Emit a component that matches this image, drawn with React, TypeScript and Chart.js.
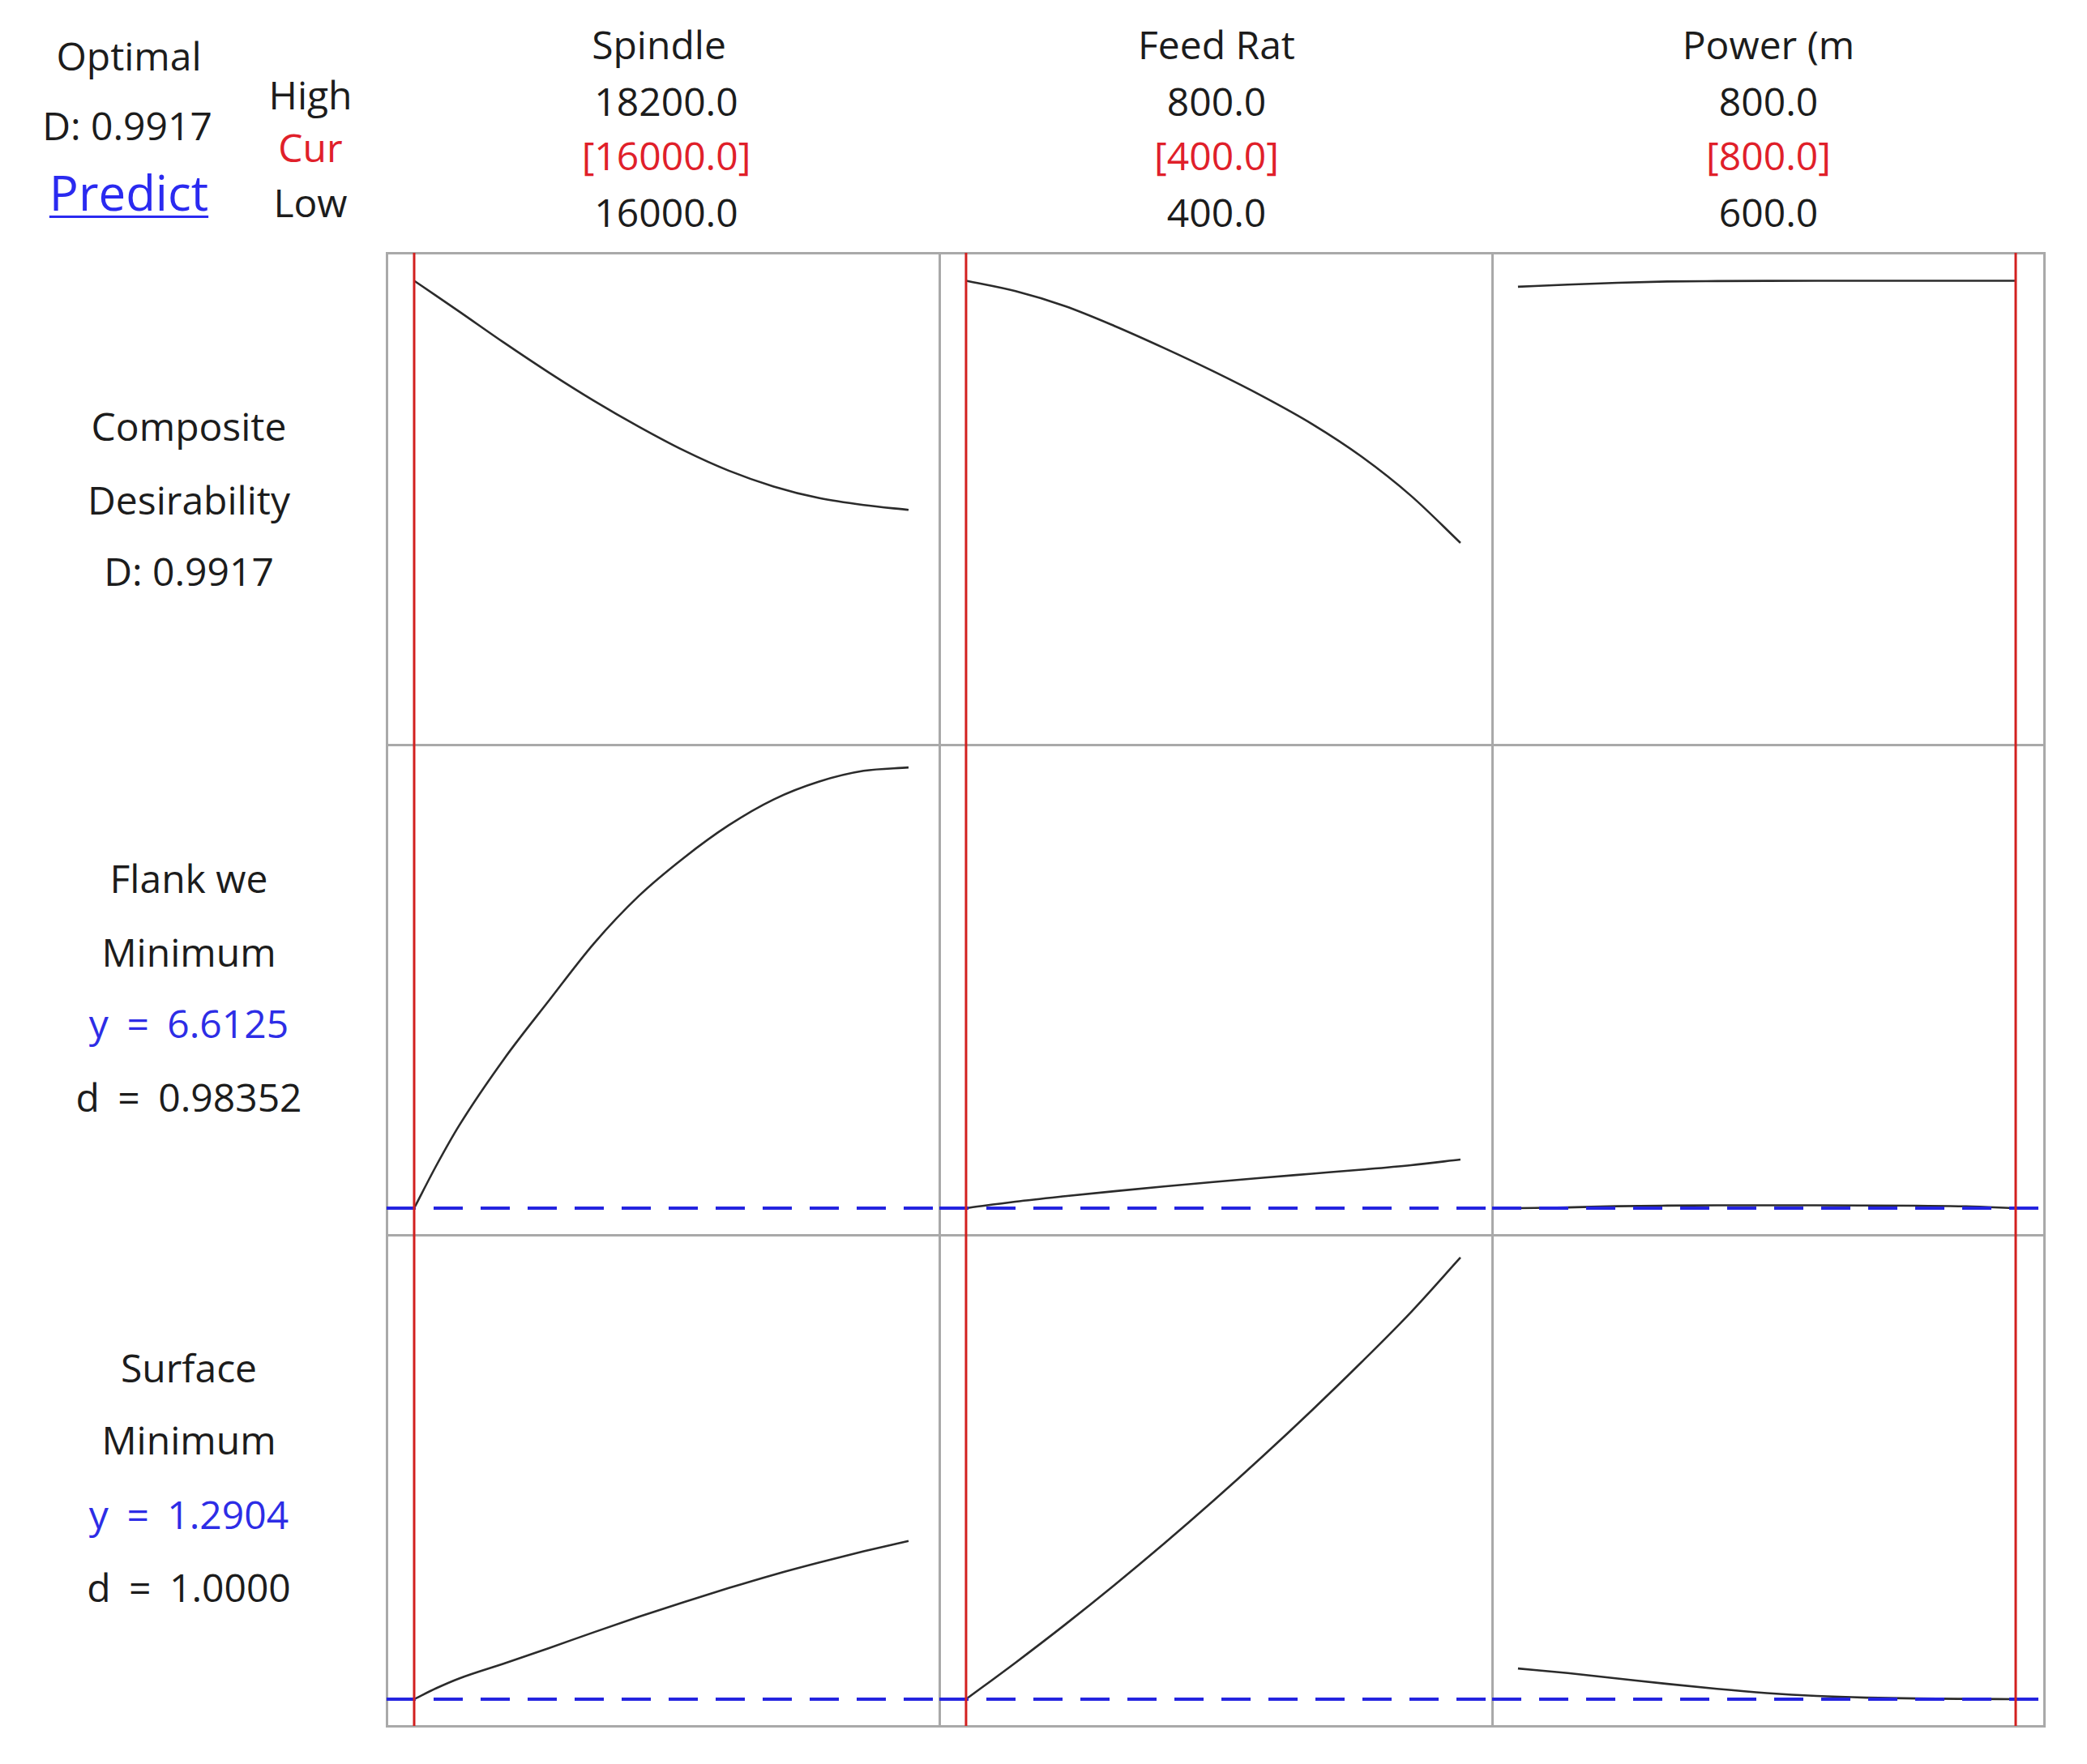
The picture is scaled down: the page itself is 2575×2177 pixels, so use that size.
import React, { useEffect, useRef } from "react";
import { Chart, registerables } from "chart.js";

Chart.register(...registerables);

// ---------------- data ----------------
const factorNames = ["Spindle", "Feed Rat", "Power (m"];
const factorHigh = ["18200.0", "800.0", "800.0"];
const factorCur = ["[16000.0]", "[400.0]", "[800.0]"];
const factorLow = ["16000.0", "400.0", "600.0"];
const currentSettings = [16000, 400, 800];

const spindleX = [16000, 16100, 16200, 16400, 16600, 16800, 17000, 17200, 17400, 17600, 17800, 18000, 18200];
const feedX = [400, 440, 480, 520, 560, 600, 640, 680, 720, 760, 800];
const powerX = [600, 620, 640, 660, 680, 700, 720, 740, 760, 780, 800];

// Composite desirability
const compositeVsSpindle = [0.9917, 0.957, 0.922, 0.851, 0.783, 0.719, 0.66, 0.606, 0.56, 0.524, 0.498, 0.482, 0.471];
const compositeVsFeed = [0.9917, 0.968, 0.934, 0.889, 0.839, 0.786, 0.729, 0.666, 0.592, 0.503, 0.396];
const compositeVsPower = [0.978, 0.983, 0.987, 0.99, 0.991, 0.9915, 0.9917, 0.9917, 0.9917, 0.9917, 0.9917];

// Flank wear (minimum), y = 6.6125
const flankVsSpindle = [6.6125, 6.93, 7.22, 7.71, 8.14, 8.56, 8.91, 9.19, 9.43, 9.62, 9.75, 9.83, 9.855];
const flankVsFeed = [6.6125, 6.66, 6.7, 6.737, 6.772, 6.805, 6.836, 6.866, 6.896, 6.929, 6.97];
const flankVsPower = [6.6125, 6.618, 6.627, 6.631, 6.633, 6.633, 6.633, 6.632, 6.63, 6.626, 6.6125];

// Surface roughness (minimum), y = 1.2904
const surfaceVsSpindle = [1.2904, 1.317, 1.34, 1.376, 1.413, 1.451, 1.488, 1.523, 1.557, 1.589, 1.618, 1.645, 1.67];
const surfaceVsFeed = [1.2904, 1.378, 1.469, 1.564, 1.663, 1.766, 1.873, 1.984, 2.099, 2.219, 2.35];
const surfaceVsPower = [1.364, 1.353, 1.34, 1.327, 1.315, 1.305, 1.298, 1.294, 1.292, 1.291, 1.2904];

const responseTargets = [null, 6.6125, 1.2904];

const rowLabels = [
  ["Composite", "Desirability", "D: 0.9917"],
  ["Flank we", "Minimum", "y = 6.6125", "d = 0.98352"],
  ["Surface", "Minimum", "y = 1.2904", "d = 1.0000"],
];

// ---------------- layout / style ----------------
const FONT = "'Open Sans', 'Noto Sans', sans-serif";
const BLACK = "#1c1c1c";
const RED = "#e0202a";
const BLUE = "#2d2de6";
const GRID = "#a9a9a9";
const CURVE = "#2b2b2b";
const LINE_RED = "#d2201f";
const LINE_BLUE = "#2424e0";

const colEdges = [477, 1159, 1841, 2522];
const rowEdges = [312, 919, 1524, 2130];
const colCenters = [818, 1501, 2182];

const xRanges: [number, number][] = [
  [15877.4, 18337.1],
  [378.4, 825.6],
  [589.6, 811.4],
];
const yRanges: [number, number][] = [
  [-0.0626, 1.0552],
  [6.4158, 10.0228],
  [1.2262, 2.4043],
];

const xsByCol = [spindleX, feedX, powerX];
const ysByCell = [
  [compositeVsSpindle, compositeVsFeed, compositeVsPower],
  [flankVsSpindle, flankVsFeed, flankVsPower],
  [surfaceVsSpindle, surfaceVsFeed, surfaceVsPower],
];

type PanelProps = {
  left: number;
  top: number;
  width: number;
  height: number;
  xs: number[];
  ys: number[];
  xRange: [number, number];
  yRange: [number, number];
  cur: number;
  target: number | null;
};

function Panel(p: PanelProps) {
  const ref = useRef<HTMLCanvasElement>(null);
  useEffect(() => {
    const datasets: any[] = [
      {
        data: [
          { x: p.cur, y: p.yRange[0] },
          { x: p.cur, y: p.yRange[1] },
        ],
        borderColor: LINE_RED,
        borderWidth: 3,
        pointRadius: 0,
        order: 0,
      },
      {
        data: p.xs.map((x, i) => ({ x, y: p.ys[i] })),
        borderColor: CURVE,
        borderWidth: 2.6,
        pointRadius: 0,
        cubicInterpolationMode: "monotone",
        order: 2,
      },
    ];
    if (p.target !== null) {
      datasets.push({
        data: [
          { x: p.xRange[0], y: p.target },
          { x: p.xRange[1], y: p.target },
        ],
        borderColor: LINE_BLUE,
        borderWidth: 4,
        borderDash: [36, 22],
        pointRadius: 0,
        order: 1,
      });
    }
    const chart = new Chart(ref.current!, {
      type: "line",
      data: { datasets },
      options: {
        animation: false,
        responsive: false,
        maintainAspectRatio: false,
        devicePixelRatio: 1,
        events: [],
        layout: { padding: 0 },
        plugins: { legend: { display: false }, tooltip: { enabled: false } },
        scales: {
          x: { type: "linear", min: p.xRange[0], max: p.xRange[1], display: false },
          y: { type: "linear", min: p.yRange[0], max: p.yRange[1], display: false },
        },
      } as any,
    });
    return () => chart.destroy();
  }, []);
  return (
    <canvas
      ref={ref}
      width={p.width}
      height={p.height}
      style={{ position: "absolute", left: p.left, top: p.top, width: p.width, height: p.height }}
    />
  );
}

function Label(props: {
  x: number;
  baseline: number;
  text: string;
  size?: number;
  color?: string;
  underline?: boolean;
  wordSpacing?: number;
}) {
  const size = props.size ?? 48;
  return (
    <div
      style={{
        position: "absolute",
        left: props.x,
        top: props.baseline - size * 1.069,
        transform: "translateX(-50%)",
        fontFamily: FONT,
        fontSize: size,
        lineHeight: "normal",
        color: props.color ?? BLACK,
        whiteSpace: "pre",
        wordSpacing: props.wordSpacing ?? 0,
        textDecoration: props.underline ? "underline" : "none",
        textDecorationThickness: props.underline ? 3 : undefined,
        textUnderlineOffset: props.underline ? 6 : undefined,
      }}
    >
      {props.text}
    </div>
  );
}

const rowBaselines = [
  [544, 635, 723],
  [1102, 1193, 1281, 1372],
  [1706, 1795, 1887, 1977],
];

export default function App() {
  const lines: React.ReactNode[] = [];
  const T = 3;
  colEdges.forEach((x, i) =>
    lines.push(
      <div
        key={"v" + i}
        style={{ position: "absolute", left: x - T / 2, top: rowEdges[0] - T / 2, width: T, height: rowEdges[3] - rowEdges[0] + T, background: GRID }}
      />
    )
  );
  rowEdges.forEach((y, i) =>
    lines.push(
      <div
        key={"h" + i}
        style={{ position: "absolute", left: colEdges[0] - T / 2, top: y - T / 2, width: colEdges[3] - colEdges[0] + T, height: T, background: GRID }}
      />
    )
  );

  const panels: React.ReactNode[] = [];
  for (let r = 0; r < 3; r++) {
    for (let c = 0; c < 3; c++) {
      panels.push(
        <Panel
          key={`p${r}${c}`}
          left={colEdges[c]}
          top={rowEdges[r]}
          width={colEdges[c + 1] - colEdges[c]}
          height={rowEdges[r + 1] - rowEdges[r]}
          xs={xsByCol[c]}
          ys={ysByCell[r][c]}
          xRange={xRanges[c]}
          yRange={yRanges[r]}
          cur={currentSettings[c]}
          target={responseTargets[r]}
        />
      );
    }
  }

  const labels: React.ReactNode[] = [];
  labels.push(<Label key="opt" x={159} baseline={87} text="Optimal" />);
  labels.push(<Label key="optd" x={157} baseline={173} text="D: 0.9917" />);
  labels.push(<Label key="pred" x={159} baseline={260} text="Predict" size={60} color="#2a2af0" underline />);
  labels.push(<Label key="hi" x={383} baseline={135} text="High" />);
  labels.push(<Label key="cur" x={383} baseline={200} text="Cur" color={RED} />);
  labels.push(<Label key="lo" x={383} baseline={268} text="Low" />);
  factorNames.forEach((n, c) => {
    labels.push(<Label key={"fn" + c} x={colCenters[c] - (c === 0 ? 5 : 0)} baseline={73} text={n} />);
    labels.push(<Label key={"fh" + c} x={colCenters[c] + (c === 0 ? 4 : 0)} baseline={143} text={factorHigh[c]} />);
    labels.push(<Label key={"fc" + c} x={colCenters[c] + (c === 0 ? 4 : 0)} baseline={210} text={factorCur[c]} color={RED} />);
    labels.push(<Label key={"fl" + c} x={colCenters[c] + (c === 0 ? 4 : 0)} baseline={280} text={factorLow[c]} />);
  });
  rowLabels.forEach((rows, r) =>
    rows.forEach((t, k) =>
      labels.push(
        <Label
          key={`rl${r}${k}`}
          x={233}
          baseline={rowBaselines[r][k]}
          text={t}
          color={k === 2 && r > 0 ? BLUE : BLACK}
          wordSpacing={r > 0 && k >= 2 ? 10 : 0}
        />
      )
    )
  );

  return (
    <div style={{ position: "absolute", left: 0, top: 0, width: 2575, height: 2177, background: "#ffffff", overflow: "hidden" }}>
      {lines}
      {panels}
      {labels}
    </div>
  );
}
